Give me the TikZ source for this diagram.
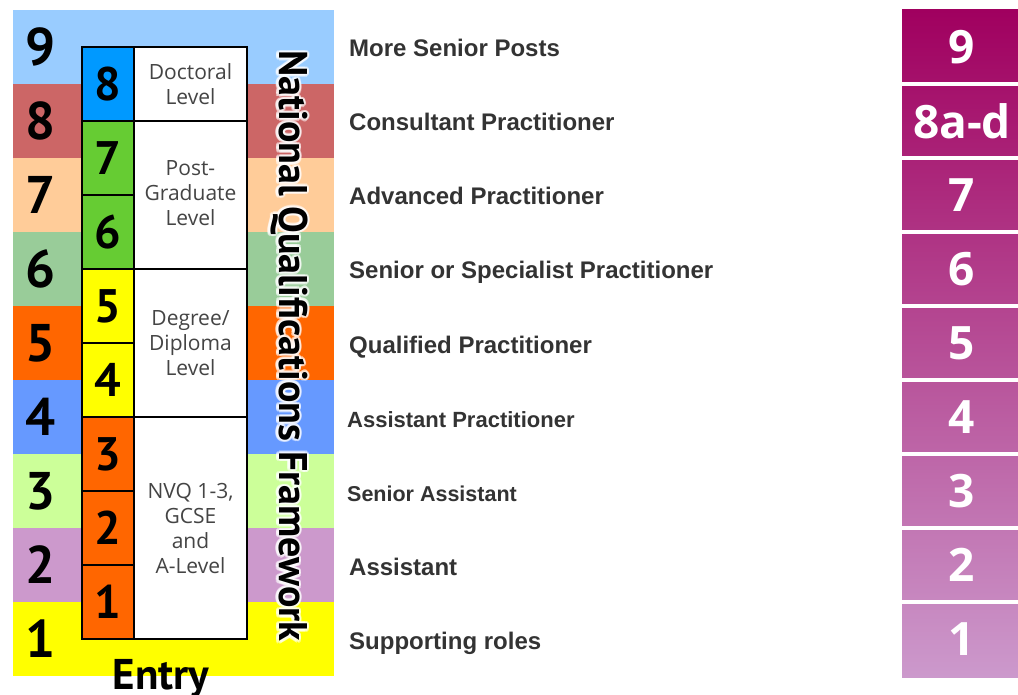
\documentclass[tikz,border=0pt]{standalone}
\usepackage{fontspec}
\setmainfont{Liberation Sans}
\newfontfamily\ptsans{PT Sans}
\newfontfamily\opensans{Open Sans}
\usetikzlibrary{positioning}
\definecolor{b9}{HTML}{99CCFF}
\definecolor{b8}{HTML}{CC6666}
\definecolor{b7}{HTML}{FFCC99}
\definecolor{b6}{HTML}{99CC99}
\definecolor{b5}{HTML}{FF6600}
\definecolor{b4}{HTML}{6699FF}
\definecolor{b3}{HTML}{CCFF99}
\definecolor{b2}{HTML}{CC99CC}
\definecolor{b1}{HTML}{FFFF00}
\definecolor{doccol}{HTML}{0099FF}
\definecolor{pgcol}{HTML}{66CC33}
\definecolor{degcol}{HTML}{FFFF00}
\definecolor{nvqcol}{HTML}{FF6600}
\definecolor{posttext}{HTML}{333333}
\definecolor{celltext}{HTML}{444444}
\definecolor{paytop}{HTML}{A0005F}
\definecolor{paylow}{HTML}{CC99CC}
\tikzset{
  bandnum/.style={font=\ptsans\bfseries\fontsize{53}{53}\selectfont,inner sep=0pt},
  cellnum/.style={font=\ptsans\bfseries\fontsize{47}{47}\selectfont,inner sep=0pt},
  cellbox/.style={draw=black,line width=1.8pt},
  levelname/.style={font=\opensans\fontsize{21}{25}\selectfont,text=celltext,align=center,inner sep=0pt},
  postname/.style={font=\bfseries\fontsize{#1}{#1}\selectfont,text=posttext,anchor=base west,inner sep=0pt},
  paynum/.style={font=\opensans\bfseries\fontsize{46}{46}\selectfont,text=white,inner sep=0pt},
  nqf/.style={font=\ptsans\bfseries\fontsize{40}{40}\selectfont,rotate=-90,anchor=base,inner sep=0pt}
}

\begin{document}
\begin{tikzpicture}[x=1pt,y=-1pt]
\useasboundingbox[fill=white] (0,0) rectangle (1018,695);
\foreach \c/\n [count=\i from 0] in {b9/9,b8/8,b7/7,b6/6,b5/5,b4/4,b3/3,b2/2,b1/1}{
  \fill[\c] (13,{10+74*\i}) rectangle (334,{84+74*\i});
  \node[bandnum] (band\n) at (40.5,{47+74*\i}) {\n};
}
\foreach \c/\n [count=\i from 0] in {doccol/8,pgcol/7,pgcol/6,degcol/5,degcol/4,nvqcol/3,nvqcol/2,nvqcol/1}{
  \draw[cellbox,fill=\c] (82,{47+74*\i}) rectangle (134,{121+74*\i});
  \node[cellnum] (cell\n) at (108,{84+74*\i}) {\n};
}
\draw[cellbox,fill=white] (134,47) rectangle (247,121);
\draw[cellbox,fill=white] (134,121) rectangle (247,269);
\draw[cellbox,fill=white] (134,269) rectangle (247,417);
\draw[cellbox,fill=white] (134,417) rectangle (247,639);
\node[levelname] (doctoral) at (190.5,84) {Doctoral\\Level};
\node[levelname] (postgrad) at (190.5,193) {Post-\\Graduate\\Level};
\node[levelname] (degree) at (190.5,343) {Degree/\\Diploma\\Level};
\node[levelname] (nvq) at (190.5,528) {NVQ 1-3,\\GCSE\\and\\A-Level};
\foreach \a in {0,30,...,330}
  \node[nqf,text=white,opacity=.45,shift={(\a:2.5)}] (glow\a) at (279,346) {National Qualifications Framework};
\node[nqf] (nqftitle) at (279,346) {National Qualifications Framework};
\node[font=\ptsans\bfseries\fontsize{43}{43}\selectfont,anchor=base,inner sep=0pt] (entry) at (161,689) {Entry};
\foreach \t/\s/\x [count=\i from 0] in {More Senior Posts/24/349,Consultant Practitioner/24/349,Advanced Practitioner/24/349,Senior or Specialist Practitioner/24/349,Qualified Practitioner/24/349,Assistant Practitioner/22/347,Senior Assistant/21.5/347,Assistant/24/349,Supporting roles/24/349}
  \node[postname=\s] (post\i) at (\x,{57+74*\i}) {\t};
\shade[top color=paytop,bottom color=paylow] (902,10) rectangle (1018,677);
\foreach \i in {1,...,8}
  \draw[white,line width=4.5pt] (902,{10+74*\i}) -- (1018,{10+74*\i});
\foreach \n [count=\i from 0] in {9,8a-d,7,6,5,4,3,2,1}
  \node[paynum] (pay\i) at (962,{47+74*\i}) {\n};
\end{tikzpicture}
\end{document}
